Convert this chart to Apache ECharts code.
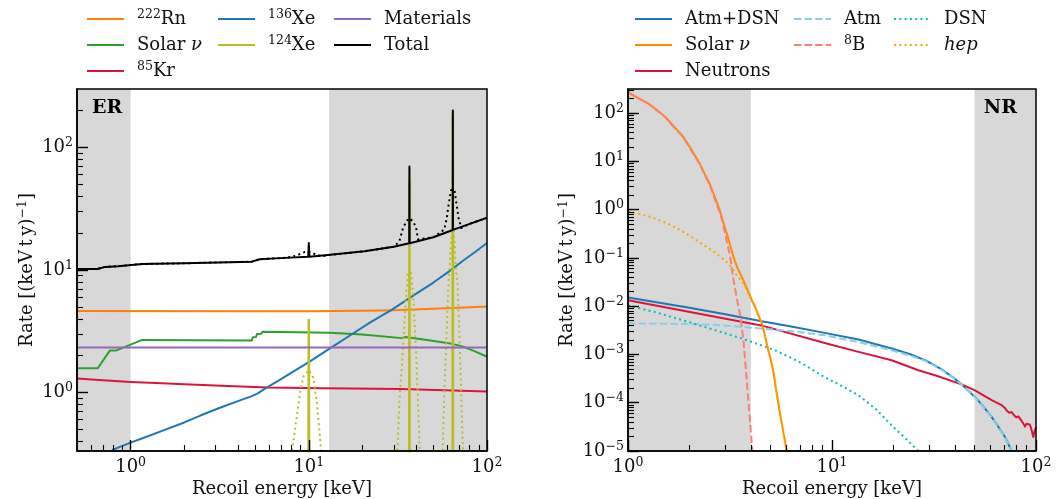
<!DOCTYPE html>
<html>
<head>
<meta charset="utf-8">
<script src="https://cdn.jsdelivr.net/npm/echarts@6/dist/echarts.min.js"></script>
<style>
  html, body { margin: 0; padding: 0; background: #fff; }
  #main { width: 1063px; height: 499px; }
</style>
</head>
<body>
<div id="main"></div>
<script>
/*#############  数据 (ER 面板)  ###############*/
var erRn = [[0.5, 4.62], [5, 4.6], [10, 4.6], [20, 4.64], [30, 4.7], [50, 4.82], [70, 4.93], [100, 5.03]];
var erSolar = [[0.5, 1.58], [0.654, 1.58], [0.764, 2.2], [0.827, 2.2], [1.16, 2.69], [4.79, 2.66], [4.85, 2.82],
  [5.05, 2.84], [5.12, 3.0], [5.4, 3.02], [5.5, 3.14], [6.87, 3.12], [13.1, 3.07], [20, 2.97], [33.3, 2.78],
  [34.8, 2.84], [45, 2.7], [61, 2.53], [72.7, 2.38], [85, 2.18], [100, 1.96]];
var erKr = [[0.5, 1.3], [0.7, 1.26], [1, 1.22], [1.5, 1.19], [2, 1.17], [3.5, 1.13], [5.89, 1.1], [12, 1.085],
  [33, 1.07], [100, 1.02]];
var erXe136 = [[0.787, 0.34], [0.9, 0.367], [1, 0.39], [1.25, 0.44], [1.54, 0.494], [2, 0.57], [2.48, 0.652],
  [3.2, 0.755], [4, 0.85], [4.75, 0.93], [5.2, 0.99], [5.64, 1.07], [6.87, 1.27], [8.3, 1.5], [10, 1.77],
  [13.2, 2.3], [17, 2.92], [22, 3.72], [29, 4.7], [39.5, 6.33], [50, 7.9], [61, 9.7], [72.7, 11.8], [85, 13.9],
  [100, 16.6]];
// 124Xe 线峰 (实线), 三个峰分别画
var erXe124Peak10 = [[9.92, 0.01], [10, 3.9], [10.08, 0.01]];
var erXe124Peak37 = [[36.55, 0.01], [36.7, 54], [36.85, 0.01]];
var erXe124Peak64 = [[64.05, 0.01], [64.3, 180], [64.55, 0.01]];
// 124Xe 展宽后 (点线)
var erXe124Smear10 = [[7.8, 0.25], [8.14, 0.38], [8.51, 0.6], [8.89, 0.95], [9.29, 1.34], [10.0, 1.52],
  [10.6, 1.32], [11.1, 0.83], [11.7, 0.35], [12.0, 0.25]];
var erXe124Smear37 = [[31.2, 0.25], [31.5, 0.35], [32.2, 0.83], [33.6, 2.03], [35.2, 6.4], [35.9, 9.3],
  [36.7, 10.2], [37.5, 9.3], [38.4, 6.4], [40.1, 2.03], [41.0, 0.83], [41.9, 0.35], [42.3, 0.25]];
var erXe124Smear64 = [[56, 0.25], [56.4, 0.35], [57.6, 1.0], [59.5, 3.4], [60.9, 8.2], [61.5, 9.7],
  [62.9, 17.1], [64.3, 25], [65.7, 17.1], [67.1, 9.7], [68.2, 8.2], [69.8, 3.4], [71.6, 1.0], [73.2, 0.35], [73.6, 0.25]];
var erMaterials = [[0.5, 2.33], [100, 2.33]];
var erTotal = [[0.5, 10.2], [0.65, 10.2], [0.72, 10.6], [0.85, 10.75], [1.16, 11.2], [2, 11.35], [4.79, 11.7],
  [4.9, 11.95], [5.3, 12.25], [6.87, 12.5], [9.92, 12.8], [10, 16.6], [10.08, 12.85], [13.2, 13.3], [20.5, 14.2],
  [30, 15.5], [36.6, 16.5], [36.7, 70], [36.8, 16.55], [50, 18.5], [64.2, 21.2], [64.3, 200], [64.4, 21.25],
  [80, 23.8], [100, 26.7]];
var erTotalSmear = [[0.5, 10.2], [0.65, 10.2], [0.72, 10.6], [0.85, 10.75], [1.16, 11.2], [2, 11.35], [4.79, 11.7],
  [4.9, 11.95], [5.3, 12.25], [6.87, 12.5], [7.6, 12.6], [8.5, 13.1], [9.46, 14.0], [10, 14.1], [10.8, 13.5],
  [11.8, 12.9], [13.2, 13.3], [20.5, 14.2], [30, 15.5], [32.2, 17.1], [33.6, 21.4], [35.2, 25], [36.7, 26.4],
  [38.4, 25], [40, 22.2], [41, 17.8], [42, 17.4], [50, 18.5], [57.6, 21.4], [59.5, 26.7], [60.9, 34.4],
  [62.9, 45], [65.7, 45], [67.5, 34], [69.2, 26.7], [71.7, 22], [80, 23.8], [100, 26.7]];

/*#############  数据 (NR 面板)  ###############*/
var nrAtmDsn = [[1, 0.0151], [2, 0.0093], [3, 0.0068], [4.52, 0.0049], [6.5, 0.0037], [9.2, 0.0028],
  [13.5, 0.00204], [19.6, 0.00133], [24, 0.00102], [28.6, 0.00076], [34.5, 0.00049], [39, 0.00034],
  [43.2, 0.00024], [50.2, 0.000132], [55, 0.000085], [60.6, 0.000051], [65, 0.000033], [70.5, 0.0000195],
  [76, 0.00001], [78, 0.000007]];
var nrSolar = [[1, 270], [1.1, 215], [1.26, 157], [1.4, 112], [1.53, 82], [1.7, 50], [1.85, 33.7], [2.0, 20.5],
  [2.24, 9.2], [2.4, 5.0], [2.51, 3.49], [2.65, 1.95], [2.82, 0.96], [2.98, 0.43], [3.08, 0.28], [3.16, 0.19],
  [3.25, 0.125], [3.35, 0.084], [3.45, 0.06], [3.55, 0.047], [3.67, 0.035], [3.8, 0.025], [3.98, 0.0155],
  [4.2, 0.0095], [4.5, 0.0047], [4.65, 0.0029], [4.78, 0.0017], [4.92, 0.00105], [5.06, 0.00065], [5.18, 0.0004],
  [5.3, 0.00021], [5.43, 0.00011], [5.56, 0.00006], [5.8, 0.000022], [6.0, 0.00001], [6.2, 0.000005]];
var nrNeutrons = [[1, 0.0133], [4.5, 0.004], [9.2, 0.00173], [13.5, 0.00113], [19.6, 0.00076], [26.5, 0.00047],
  [32, 0.00037], [43.2, 0.00024], [50.2, 0.00018], [60.6, 0.000113], [67.9, 0.000089], [70, 0.00008],
  [72, 0.000068], [74, 0.000062], [76, 0.000064], [78, 0.000055], [80, 0.00005], [82, 0.000052], [85, 0.000042],
  [87, 0.000036], [88.3, 0.000032], [90, 0.000037], [92, 0.000034], [93.4, 0.000035], [95, 0.000028],
  [97, 0.0000195], [98.5, 0.000026], [100, 0.000031]];
var nrAtm = [[1, 0.0044], [1.5, 0.00435], [2.3, 0.0042], [3.2, 0.0039], [4.5, 0.00344], [6.5, 0.003],
  [9.2, 0.0025], [13.5, 0.0018], [19.6, 0.00122], [24, 0.00096], [28.6, 0.00074], [34.5, 0.00048], [39, 0.000335],
  [43.2, 0.000238], [50.2, 0.00013], [55, 0.000084], [60.6, 0.00005], [65, 0.000032], [70.5, 0.0000192],
  [76, 0.00001], [78, 0.000007]];
var nrB8 = [[1, 270], [1.1, 214], [1.26, 157], [1.4, 110], [1.53, 81], [1.7, 48], [1.85, 33.4], [2.0, 19.5],
  [2.24, 9.0], [2.4, 4.8], [2.51, 3.35], [2.65, 1.75], [2.82, 0.86], [2.9, 0.58], [2.98, 0.345], [3.08, 0.18],
  [3.16, 0.115], [3.28, 0.038], [3.4, 0.016], [3.54, 0.0068], [3.68, 0.002], [3.82, 0.00029],
  [3.96, 0.000043], [4.07, 0.00001], [4.12, 0.000005]];
var nrDsn = [[1, 0.0104], [1.4, 0.0073], [2.05, 0.0045], [2.8, 0.003], [3.61, 0.00214], [4.4, 0.0016],
  [5.26, 0.00122], [6.2, 0.00088], [7.1, 0.00066], [8.1, 0.00047], [9.2, 0.00034], [11, 0.00023],
  [13.5, 0.000143], [16.5, 0.000072], [19.6, 0.000034], [23, 0.000018], [26.5, 0.00001], [28, 0.000007]];
var nrHep = [[1, 0.93], [1.25, 0.74], [1.53, 0.54], [1.8, 0.38], [2.08, 0.26], [2.35, 0.185], [2.61, 0.138],
  [2.82, 0.108], [3.04, 0.084], [3.2, 0.066], [3.41, 0.044], [3.67, 0.03], [3.98, 0.0155], [4.2, 0.0095],
  [4.5, 0.0047], [4.65, 0.0029], [4.78, 0.0017], [4.92, 0.00105], [5.06, 0.00065], [5.18, 0.0004], [5.3, 0.00021],
  [5.43, 0.00011], [5.56, 0.00006], [5.8, 0.000022], [6.0, 0.00001], [6.2, 0.000005]];

/*#############  刻度  ###############*/
var erXMajor = [1, 10, 100];
var erXMinor = [0.6, 0.7, 0.8, 0.9, 2, 3, 4, 5, 6, 7, 8, 9, 20, 30, 40, 50, 60, 70, 80, 90];
var erYMajor = [1, 10, 100];
var erYMinor = [0.4, 0.5, 0.6, 0.7, 0.8, 0.9, 2, 3, 4, 5, 6, 7, 8, 9, 20, 30, 40, 50, 60, 70, 80, 90, 200];
var nrXMajor = [1, 10, 100];
var nrXMinor = [2, 3, 4, 5, 6, 7, 8, 9, 20, 30, 40, 50, 60, 70, 80, 90];
var nrYMajor = [1e-5, 1e-4, 1e-3, 1e-2, 1e-1, 1, 10, 100];
var nrYMinor = [];
[1e-5, 1e-4, 1e-3, 1e-2, 1e-1, 1, 10, 100].forEach(function (d) {
  for (var k = 2; k <= 9; k++) { if (d * k < 316) nrYMinor.push(d * k); }
});

var FONT = "DejaVu Serif";
var TXT = "#111";
var rich = {
  sup: { fontSize: 12.5, fontFamily: FONT, color: TXT, verticalAlign: "top", lineHeight: 12 },
  it: { fontSize: 18, fontFamily: FONT, color: TXT, fontStyle: "italic" },
};
// 图例文字
var labelMap = {
  rn: "{sup|222}Rn", solarER: "Solar {it|ν}", kr: "{sup|85}Kr", xe136: "{sup|136}Xe", xe124: "{sup|124}Xe",
  materials: "Materials", total: "Total",
  atmdsn: "Atm+DSN", solarNR: "Solar {it|ν}", neutrons: "Neutrons", atm: "Atm", b8: "{sup|8}B",
  dsn: "DSN", hep: "{it|hep}",
};

function powLabel(v) {
  var e = Math.round(Math.log10(v));
  return "10{sup|" + (e < 0 ? "\u2212" + (-e) : e) + "}";
}

function xAxes(grid, min, max, major, minor, withName) {
  return [
    {
      type: "log", gridIndex: grid, min: min, max: max, position: "bottom", z: 10,
      axisLine: { show: true, lineStyle: { color: "#000", width: 1.5 } },
      axisTick: { show: true, inside: true, length: 11, customValues: major, lineStyle: { color: "#000", width: 1.4 } },
      axisLabel: {
        show: true, customValues: major, formatter: powLabel, margin: 5, color: TXT,
        fontFamily: FONT, fontSize: 18, lineHeight: 22, rich: rich,
      },
      splitLine: { show: false }, minorTick: { show: false },
      name: withName ? "Recoil energy [keV]" : "", nameLocation: "middle", nameGap: 29, nameMoveOverlap: false,
      nameTextStyle: { fontFamily: FONT, fontSize: 18, color: TXT, verticalAlign: "top" },
    },
    {
      type: "log", gridIndex: grid, min: min, max: max, position: "bottom", z: 10,
      axisLine: { show: false },
      axisTick: { show: true, inside: true, length: 6, customValues: minor, lineStyle: { color: "#000", width: 1.1 } },
      axisLabel: { show: false }, splitLine: { show: false },
    },
  ];
}

function yAxes(grid, min, max, major, minor, gap) {
  return [
    {
      type: "log", gridIndex: grid, min: min, max: max, position: "left", z: 10,
      axisLine: { show: true, lineStyle: { color: "#000", width: 1.5 } },
      axisTick: { show: true, inside: true, length: 11, customValues: major, lineStyle: { color: "#000", width: 1.4 } },
      axisLabel: {
        show: true, customValues: major, formatter: powLabel, margin: 4, color: TXT,
        fontFamily: FONT, fontSize: 18, lineHeight: 22, rich: rich,
      },
      splitLine: { show: false }, minorTick: { show: false },
      name: "Rate [(keV\u2009t\u2009y){sup|\u22121}]", nameLocation: "middle", nameGap: gap, nameRotate: 90,
      nameTextStyle: { fontFamily: FONT, fontSize: 18, color: TXT, lineHeight: 22, rich: rich },
    },
    {
      type: "log", gridIndex: grid, min: min, max: max, position: "left", z: 10,
      axisLine: { show: false },
      axisTick: { show: true, inside: true, length: 6, customValues: minor, lineStyle: { color: "#000", width: 1.1 } },
      axisLabel: { show: false }, splitLine: { show: false },
    },
  ];
}

function line(key, data, color, ax, opt) {
  opt = opt || {};
  return {
    type: "line", name: key, data: data, xAxisIndex: ax, yAxisIndex: ax,
    symbol: "none", clip: true, animation: false, silent: true, z: opt.z || 3,
    lineStyle: { color: color, width: opt.width || 2, type: opt.type || "solid", cap: "butt", join: "round" },
    itemStyle: { color: color },
  };
}

function band(ax, ranges) {
  return {
    type: "line", data: [], xAxisIndex: ax, yAxisIndex: ax, z: 1, silent: true, animation: false,
    markArea: {
      silent: true, itemStyle: { color: "#d8d8d8", opacity: 1 },
      data: ranges.map(function (r) { return [{ xAxis: r[0] }, { xAxis: r[1] }]; }),
    },
  };
}

function legendCol(keys, left) {
  return {
    data: keys, orient: "vertical", left: left, top: 8, padding: 0, itemGap: 4,
    itemWidth: 37, itemHeight: 14, selectedMode: false,
    itemStyle: { opacity: 0, borderWidth: 0 },
    formatter: function (n) { return labelMap[n]; },
    textStyle: { fontFamily: FONT, fontSize: 18, color: TXT, lineHeight: 22, padding: [0, 0, 0, 8], rich: rich },
  };
}

var DOT = [2, 3.3];
var DASH = [7.4, 3.2];

var dom = document.getElementById("main");
var myChart = echarts.init(dom, null, { renderer: "canvas" });
var option = {
  animation: false,
  backgroundColor: "#fff",
  grid: [
    { left: 77, top: 89, width: 410, height: 362, show: true, borderColor: "#000", borderWidth: 1.5, z: 10, outerBoundsMode: "none", containLabel: false },
    { left: 628, top: 89, width: 408, height: 362, show: true, borderColor: "#000", borderWidth: 1.5, z: 10, outerBoundsMode: "none", containLabel: false },
  ],
  xAxis: [].concat(
    xAxes(0, 0.5, 100, erXMajor, erXMinor, true),
    xAxes(1, 1, 100, nrXMajor, nrXMinor, true)
  ),
  yAxis: [].concat(
    yAxes(0, 1 / 3, 300, erYMajor, erYMinor, 38),
    yAxes(1, 1e-5, 316, nrYMajor, nrYMinor, 48)
  ),
  legend: [
    legendCol(["rn", "solarER", "kr"], 86),
    legendCol(["xe136", "xe124"], 217),
    legendCol(["materials", "total"], 333),
    legendCol(["atmdsn", "solarNR", "neutrons"], 634),
    legendCol(["atm", "b8"], 793),
    legendCol(["dsn", "hep"], 893),
  ],
  graphic: [
    { type: "text", left: 92, top: 99, z: 20, style: { text: "ER", font: "bold 19px 'DejaVu Serif'", fill: "#000" } },
    { type: "text", right: 46, top: 99, z: 20, style: { text: "NR", font: "bold 19px 'DejaVu Serif'", fill: "#000" } },
  ],
  series: [
    band(0, [[0.5, 1], [13, 100]]),
    band(2, [[1, 4], [50, 100]]),
    // ER
    line("rn", erRn, "#ff7f0e", 0),
    line("solarER", erSolar, "#2ca02c", 0),
    line("kr", erKr, "#dc143c", 0),
    line("xe136", erXe136, "#1f77b4", 0),
    line("xe124", erXe124Peak10, "#bcbd22", 0, { width: 2.5 }),
    line("xe124", erXe124Peak37, "#bcbd22", 0, { width: 2.5 }),
    line("xe124", erXe124Peak64, "#bcbd22", 0, { width: 2.5 }),
    line("xe124s", erXe124Smear10, "#bcbd22", 0, { type: DOT }),
    line("xe124s", erXe124Smear37, "#bcbd22", 0, { type: DOT }),
    line("xe124s", erXe124Smear64, "#bcbd22", 0, { type: DOT }),
    line("materials", erMaterials, "#9467bd", 0),
    line("totals", erTotalSmear, "#000", 0, { type: DOT, z: 4 }),
    line("total", erTotal, "#000", 0, { z: 5 }),
    // NR
    line("atmdsn", nrAtmDsn, "#1f77b4", 2),
    line("solarNR", nrSolar, "#ff8c00", 2),
    line("neutrons", nrNeutrons, "#dc143c", 2),
    line("atm", nrAtm, "#87ceeb", 2, { type: DASH }),
    line("b8", nrB8, "#fa8072", 2, { type: DASH }),
    line("dsn", nrDsn, "#00bfbf", 2, { type: DOT }),
    line("hep", nrHep, "#ffa500", 2, { type: DOT }),
  ],
};
if (option && typeof option === "object") {
  myChart.setOption(option, true);
}
</script>
</body>
</html>
